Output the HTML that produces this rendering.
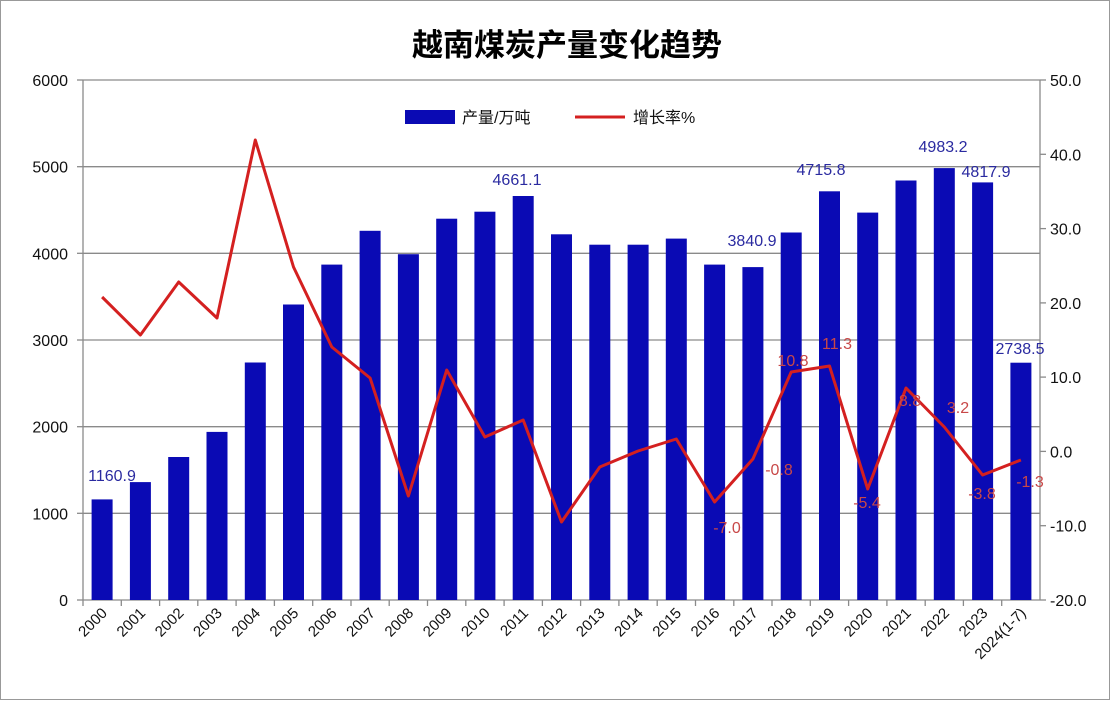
<!DOCTYPE html>
<html><head><meta charset="utf-8"><style>
html,body{margin:0;padding:0;background:#fff}
svg{display:block;font-family:"Liberation Sans","Noto Sans CJK SC",sans-serif}
</style></head><body>
<svg width="1112" height="704" viewBox="0 0 1112 704">
<rect x="0.5" y="0.5" width="1109" height="699" fill="#fff" stroke="#999"/>
<text x="567" y="56" text-anchor="middle" font-size="31" font-weight="bold" fill="#000">越南煤炭产量变化趋势</text>
<g stroke="#8a8a8a" stroke-width="1.3">
<line x1="83" y1="80" x2="1040" y2="80"/><line x1="83" y1="166.7" x2="1040" y2="166.7"/>
<line x1="83" y1="253.3" x2="1040" y2="253.3"/><line x1="83" y1="340" x2="1040" y2="340"/>
<line x1="83" y1="426.7" x2="1040" y2="426.7"/><line x1="83" y1="513.3" x2="1040" y2="513.3"/>
<line x1="83" y1="600" x2="1040" y2="600"/>
<line x1="83" y1="80" x2="83" y2="600"/><line x1="1040" y1="80" x2="1040" y2="600"/>
<line x1="1040" y1="80" x2="1046" y2="80"/><line x1="1040" y1="154.3" x2="1046" y2="154.3"/><line x1="1040" y1="228.6" x2="1046" y2="228.6"/><line x1="1040" y1="302.9" x2="1046" y2="302.9"/><line x1="1040" y1="377.1" x2="1046" y2="377.1"/><line x1="1040" y1="451.4" x2="1046" y2="451.4"/><line x1="1040" y1="525.7" x2="1046" y2="525.7"/><line x1="1040" y1="600" x2="1046" y2="600"/>
<line x1="77" y1="80" x2="83" y2="80"/><line x1="77" y1="166.7" x2="83" y2="166.7"/><line x1="77" y1="253.3" x2="83" y2="253.3"/><line x1="77" y1="340" x2="83" y2="340"/><line x1="77" y1="426.7" x2="83" y2="426.7"/><line x1="77" y1="513.3" x2="83" y2="513.3"/><line x1="77" y1="600" x2="83" y2="600"/>
</g>
<g stroke="#8a8a8a" stroke-width="1.3">
<line x1="83" y1="600" x2="83" y2="606"/><line x1="121.3" y1="600" x2="121.3" y2="606"/><line x1="159.6" y1="600" x2="159.6" y2="606"/><line x1="197.8" y1="600" x2="197.8" y2="606"/><line x1="236.1" y1="600" x2="236.1" y2="606"/><line x1="274.4" y1="600" x2="274.4" y2="606"/><line x1="312.7" y1="600" x2="312.7" y2="606"/><line x1="351" y1="600" x2="351" y2="606"/><line x1="389.2" y1="600" x2="389.2" y2="606"/><line x1="427.5" y1="600" x2="427.5" y2="606"/><line x1="465.8" y1="600" x2="465.8" y2="606"/><line x1="504.1" y1="600" x2="504.1" y2="606"/><line x1="542.4" y1="600" x2="542.4" y2="606"/><line x1="580.6" y1="600" x2="580.6" y2="606"/><line x1="618.9" y1="600" x2="618.9" y2="606"/><line x1="657.2" y1="600" x2="657.2" y2="606"/><line x1="695.5" y1="600" x2="695.5" y2="606"/><line x1="733.8" y1="600" x2="733.8" y2="606"/><line x1="772" y1="600" x2="772" y2="606"/><line x1="810.3" y1="600" x2="810.3" y2="606"/><line x1="848.6" y1="600" x2="848.6" y2="606"/><line x1="886.9" y1="600" x2="886.9" y2="606"/><line x1="925.2" y1="600" x2="925.2" y2="606"/><line x1="963.4" y1="600" x2="963.4" y2="606"/><line x1="1001.7" y1="600" x2="1001.7" y2="606"/>
</g>
<g font-size="16" fill="#111" text-anchor="end">
<text x="68" y="86">6000</text><text x="68" y="172.7">5000</text><text x="68" y="259.3">4000</text><text x="68" y="346">3000</text><text x="68" y="432.7">2000</text><text x="68" y="519.3">1000</text><text x="68" y="606">0</text>
</g>
<g font-size="16" fill="#111">
<text x="1050" y="86">50.0</text><text x="1050" y="160.3">40.0</text><text x="1050" y="234.6">30.0</text><text x="1050" y="308.9">20.0</text><text x="1050" y="383.1">10.0</text><text x="1050" y="457.4">0.0</text><text x="1050" y="531.7">-10.0</text><text x="1050" y="606">-20.0</text>
</g>
<g fill="#0a0ab4">
<rect x="91.6" y="499.4" width="21" height="100.6"/><rect x="129.9" y="482.1" width="21" height="117.9"/><rect x="168.2" y="457" width="21" height="143"/><rect x="206.5" y="431.9" width="21" height="168.1"/><rect x="244.8" y="362.5" width="21" height="237.5"/><rect x="283" y="304.5" width="21" height="295.5"/><rect x="321.3" y="264.6" width="21" height="335.4"/><rect x="359.6" y="230.8" width="21" height="369.2"/><rect x="397.9" y="254.2" width="21" height="345.8"/><rect x="436.2" y="218.7" width="21" height="381.3"/><rect x="474.4" y="211.7" width="21" height="388.3"/><rect x="512.7" y="196" width="21" height="404"/><rect x="551" y="234.3" width="21" height="365.7"/><rect x="589.3" y="244.7" width="21" height="355.3"/><rect x="627.6" y="244.7" width="21" height="355.3"/><rect x="665.8" y="238.6" width="21" height="361.4"/><rect x="704.1" y="264.6" width="21" height="335.4"/><rect x="742.4" y="267.1" width="21" height="332.9"/><rect x="780.7" y="232.5" width="21" height="367.5"/><rect x="819" y="191.3" width="21" height="408.7"/><rect x="857.2" y="212.6" width="21" height="387.4"/><rect x="895.5" y="180.5" width="21" height="419.5"/><rect x="933.8" y="168.1" width="21" height="431.9"/><rect x="972.1" y="182.4" width="21" height="417.6"/><rect x="1010.4" y="362.7" width="21" height="237.3"/>
</g>
<polyline fill="none" stroke="#d42020" stroke-width="3" stroke-linejoin="round" points="102.1,297 140.4,335 178.7,282 217,318 255.3,140 293.5,267 331.8,347 370.1,378 408.4,496 446.7,370 484.9,437 523.2,420 561.5,522 599.8,467 638.1,451 676.3,439 714.6,502 752.9,459 791.2,372 829.5,366 867.7,489 906,388 944.3,427 982.6,475 1020.9,460"/>
<g font-size="16" fill="#2a2aa0" text-anchor="middle">
<text x="112" y="481">1160.9</text><text x="517" y="185">4661.1</text><text x="752" y="246">3840.9</text><text x="821" y="175">4715.8</text><text x="943" y="152">4983.2</text><text x="986" y="177">4817.9</text><text x="1020" y="354">2738.5</text>
</g>
<g font-size="16" fill="#c84848" text-anchor="middle">
<text x="727" y="533">-7.0</text><text x="779" y="475">-0.8</text><text x="793" y="366">10.8</text><text x="837" y="349">11.3</text><text x="867" y="508">-5.4</text><text x="910" y="406">8.8</text><text x="958" y="413">3.2</text><text x="982" y="499">-3.8</text><text x="1030" y="487">-1.3</text>
</g>
<rect x="405" y="110" width="50" height="14" fill="#0a0ab4"/>
<text x="462" y="123" font-size="16" fill="#111">产量/万吨</text>
<line x1="575" y1="117" x2="625" y2="117" stroke="#d42020" stroke-width="3"/>
<text x="633" y="123" font-size="16" fill="#111">增长率%</text>
<g font-size="15" fill="#111" text-anchor="end">
<text transform="translate(108,614) rotate(-45)">2000</text><text transform="translate(146.3,614) rotate(-45)">2001</text><text transform="translate(184.6,614) rotate(-45)">2002</text><text transform="translate(222.9,614) rotate(-45)">2003</text><text transform="translate(261.2,614) rotate(-45)">2004</text><text transform="translate(299.4,614) rotate(-45)">2005</text><text transform="translate(337.7,614) rotate(-45)">2006</text><text transform="translate(376,614) rotate(-45)">2007</text><text transform="translate(414.3,614) rotate(-45)">2008</text><text transform="translate(452.6,614) rotate(-45)">2009</text><text transform="translate(490.8,614) rotate(-45)">2010</text><text transform="translate(529.1,614) rotate(-45)">2011</text><text transform="translate(567.4,614) rotate(-45)">2012</text><text transform="translate(605.7,614) rotate(-45)">2013</text><text transform="translate(644,614) rotate(-45)">2014</text><text transform="translate(682.2,614) rotate(-45)">2015</text><text transform="translate(720.5,614) rotate(-45)">2016</text><text transform="translate(758.8,614) rotate(-45)">2017</text><text transform="translate(797.1,614) rotate(-45)">2018</text><text transform="translate(835.4,614) rotate(-45)">2019</text><text transform="translate(873.6,614) rotate(-45)">2020</text><text transform="translate(911.9,614) rotate(-45)">2021</text><text transform="translate(950.2,614) rotate(-45)">2022</text><text transform="translate(988.5,614) rotate(-45)">2023</text><text transform="translate(1026.8,614) rotate(-45)">2024(1-7)</text>
</g>
</svg>
</body></html>
